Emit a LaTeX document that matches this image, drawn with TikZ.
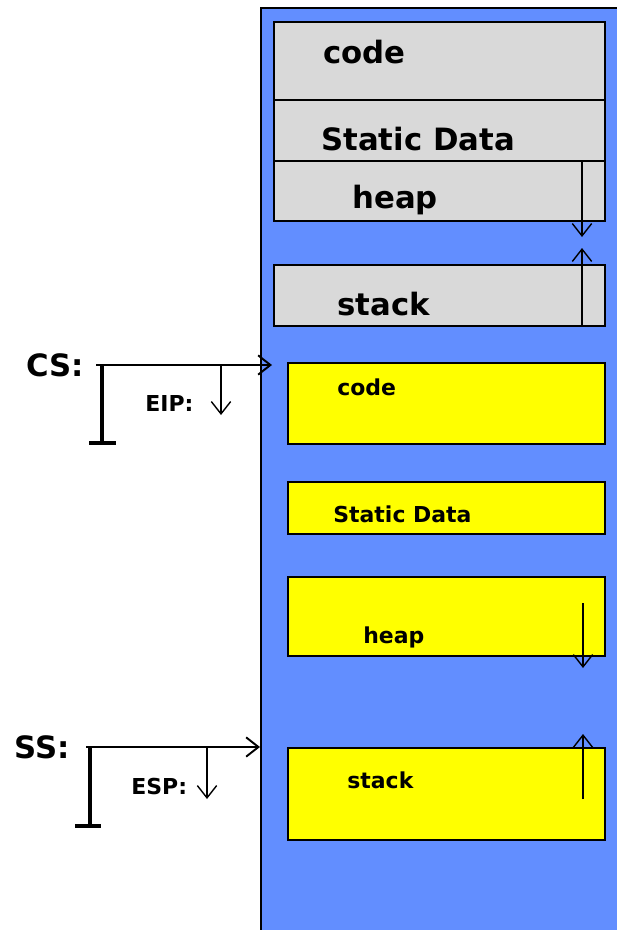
\documentclass[tikz,border=0pt]{standalone}
\usepackage{fontspec}
\setsansfont{DejaVu Sans}
\usetikzlibrary{arrows.meta}

\begin{document}
\begin{tikzpicture}[x=0.02cm,y=-0.02cm,
			memory/.style={fill={rgb,255:red,98;green,142;blue,255}},
			seg/.style={draw,line width=1pt,anchor=north west,inner sep=0pt},
			old seg/.style={seg,fill=black!15,minimum width=6.62cm},
			new seg/.style={seg,fill={rgb,255:red,255;green,255;blue,0},minimum width=6.34cm},
			big/.style={font=\sffamily\bfseries\fontsize{17.5}{20}\selectfont,anchor=base west,inner sep=0pt},
			small/.style={font=\sffamily\bfseries\fontsize{12.5}{15}\selectfont,anchor=base west,inner sep=0pt},
			growth/.style={-{Straight Barb[length=7pt,width=11pt]},line width=0.8pt},
			ptr/.style={growth,line width=1.1pt},
			ground/.style={line width=1.8pt}]
			\useasboundingbox (0,0) rectangle (617,930);
			% address space
			\fill[memory] (261,8) rectangle (617,930);
			\draw[line width=1.2pt] (261,930) -- (261,8) -- (617,8);

			% logical view
			\node[old seg,minimum height=1.56cm] (gcode) at (273,21) {};
			\node[old seg,minimum height=1.22cm] (gdata) at (273,99) {};
			\node[old seg,minimum height=1.2cm] (gheap) at (273,160) {};
			\node[old seg,minimum height=1.22cm] (gstack) at (273,264) {};
			\node[big] (gcode text) at (323,63) {code};
			\node[big] (gdata text) at (321,150) {Static Data};
			\node[big] (gheap text) at (352,208) {heap};
			\node[big] (gstack text) at (337,315) {stack};
			\coordinate (gheap tip) at (582,237);
			\coordinate (gstack tip) at (582,248);
			\draw[growth] (gheap tip |- gheap.north) -- (gheap tip);
			\draw[growth] (gstack tip |- gstack.south) -- (gstack tip);

			% segments
			\node[new seg,minimum height=1.62cm] (ycode) at (287,362) {};
			\node[new seg,minimum height=1.04cm] (ydata) at (287,481) {};
			\node[new seg,minimum height=1.58cm] (yheap) at (287,576) {};
			\node[new seg,minimum height=1.84cm] (ystack) at (287,747) {};
			\node[small] (ycode text) at (337,395) {code};
			\node[small] (ydata text) at (333,522) {Static Data};
			\node[small] (yheap text) at (363,643) {heap};
			\node[small] (ystack text) at (347,788) {stack};
			\coordinate (yheap from) at (583,603);
			\coordinate (yheap tip) at (583,668);
			\coordinate (ystack from) at (583,799);
			\coordinate (ystack tip) at (583,734);
			\draw[growth] (yheap from) -- (yheap tip);
			\draw[growth] (ystack from) -- (ystack tip);

			% registers
			\node[big] (cs) at (26,376) {CS:};
			\node[small] (eip) at (145,411) {EIP:};
			\coordinate (cs from) at (96,365);
			\coordinate (cs tip) at (272,365);
			\draw[ptr] (cs from) -- (cs tip);
			\draw[ground] (102,365) -- (102,443) (89,443) -- (116,443);
			\draw[growth] (221,365) -- (221,415);

			\node[big] (ss) at (14,758) {SS:};
			\node[small] (esp) at (131,794) {ESP:};
			\coordinate (ss from) at (86,747);
			\coordinate (ss tip) at (260,747);
			\draw[ptr] (ss from) -- (ss tip);
			\draw[ground] (90,747) -- (90,826) (75,826) -- (101,826);
			\draw[growth] (207,747) -- (207,799);
\end{tikzpicture}
\end{document}
